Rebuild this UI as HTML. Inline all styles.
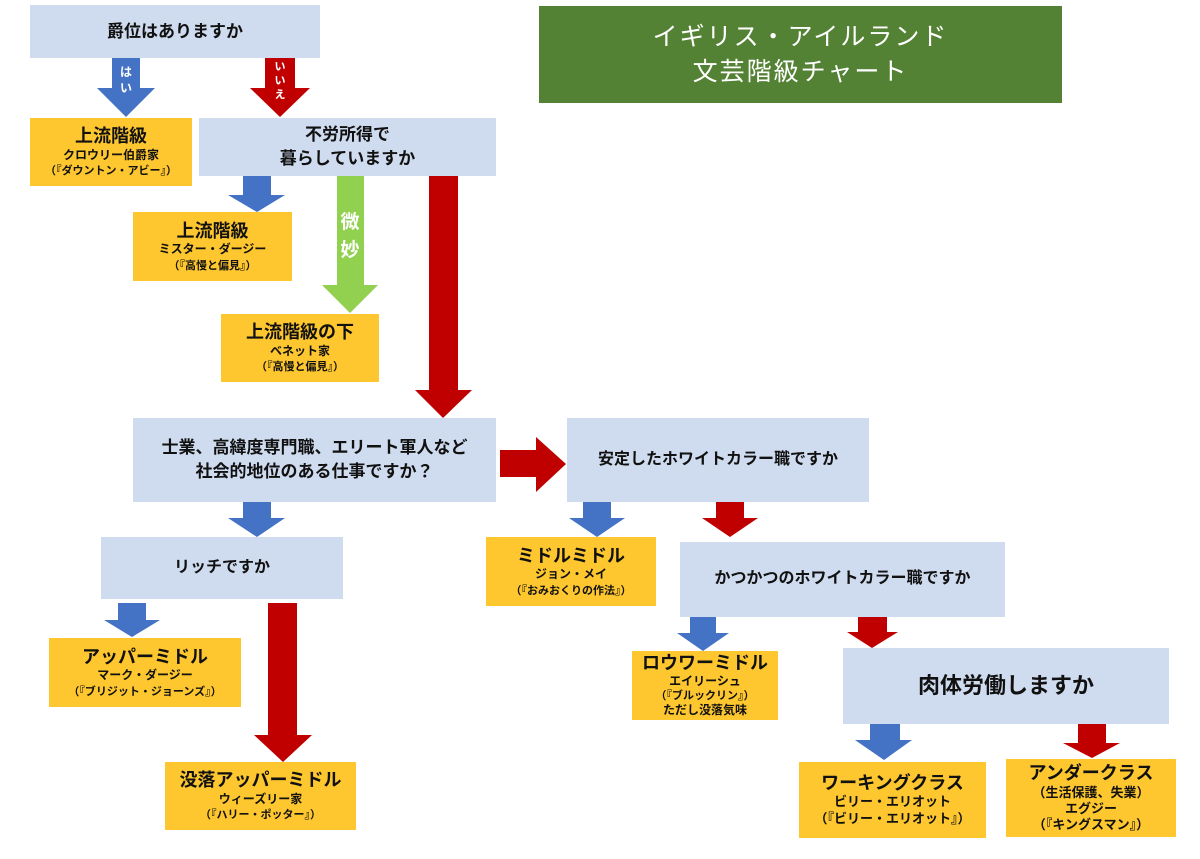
<!DOCTYPE html>
<html><head><meta charset="utf-8"><style>
body{margin:0;width:1200px;height:859px;background:#fff;position:relative;overflow:hidden;font-family:"Liberation Sans","Noto Sans CJK JP",sans-serif;font-weight:bold;color:#111}
.b{position:absolute;display:flex;align-items:center;justify-content:center;text-align:center;box-sizing:border-box}
.b>div{width:100%}
.q{background:#cfdbee;font-size:17px;line-height:1.4}
.y{background:#fec72f;font-size:12px;line-height:1.3}
.y .t{font-size:18px;line-height:1.25}
.s{font-size:11px}
svg{position:absolute;left:0;top:0}
</style></head><body>
<svg width="1200" height="859">
<g fill="#4472c4">
<polygon points="112,58 140,58 140,88 155,88 126,117 97,88 112,88"/>
<polygon points="243,176 271,176 271,195 285,195 257,212 228,195 243,195"/>
<polygon points="243,502 271,502 271,518 285,518 257,537 228,518 243,518"/>
<polygon points="118,603 146,603 146,620 160,620 132,637 104,620 118,620"/>
<polygon points="583,502 611,502 611,518 625,518 597,537 569,518 583,518"/>
<polygon points="690,616 716,616 716,633 729,633 703,651 677,633 690,633"/>
<polygon points="870,724 900,724 900,740 912,740 884,760 855,740 870,740"/>
</g>
<g fill="#c00000">
<polygon points="265,58 295,58 295,88 310,88 280,117 250,88 265,88"/>
<polygon points="429,176 458,176 458,390 472,390 443,418 415,390 429,390"/>
<polygon points="500,450 536,450 536,437 566,464 536,492 536,477 500,477"/>
<polygon points="268,603 297,603 297,735 312,735 283,762 254,735 268,735"/>
<polygon points="716,502 744,502 744,518 758,518 730,537 702,518 716,518"/>
<polygon points="858,616 887,616 887,632 898,632 872,648 847,632 858,632"/>
<polygon points="1078,724 1106,724 1106,743 1120,743 1092,758 1063,743 1078,743"/>
</g>
<polygon fill="#92d050" points="337,176 364,176 364,285 378,285 350,313 322,285 337,285"/>
<g fill="#fff" font-family="Liberation Sans,Noto Sans CJK JP,sans-serif" font-weight="bold" text-anchor="middle">
<text x="126" y="76" font-size="12">は</text><text x="126" y="92" font-size="12">い</text>
<text x="280" y="70" font-size="11">い</text><text x="280" y="84" font-size="11">い</text><text x="280" y="98" font-size="11">え</text>
<text x="350" y="228" font-size="19">微</text><text x="350" y="256" font-size="19">妙</text>
</g>
</svg>
<div class="b" style="left:539px;top:6px;width:523px;height:97px;background:#548235;color:#fff;font-weight:normal;font-size:25px;line-height:1.4;letter-spacing:2px"><div>イギリス・アイルランド<br>文芸階級チャート</div></div>
<div class="b q" style="left:30px;top:5px;width:290px;height:53px"><div>爵位はありますか</div></div>
<div class="b y" style="left:30px;top:118px;width:162px;height:68px"><div><div class="t">上流階級</div>クロウリー伯爵家<br><span class="s">（『ダウントン・アビー』）</span></div></div>
<div class="b q" style="left:199px;top:118px;width:297px;height:58px"><div>不労所得で<br>暮らしていますか</div></div>
<div class="b y" style="left:133px;top:212px;width:159px;height:69px"><div><div class="t">上流階級</div>ミスター・ダージー<br><span class="s">（『高慢と偏見』）</span></div></div>
<div class="b y" style="left:221px;top:314px;width:158px;height:68px"><div><div class="t">上流階級の下</div>ベネット家<br><span class="s">（『高慢と偏見』）</span></div></div>
<div class="b q" style="left:133px;top:418px;width:363px;height:84px"><div>士業、高緯度専門職、エリート軍人など<br>社会的地位のある仕事ですか？</div></div>
<div class="b q" style="left:567px;top:418px;width:302px;height:84px;font-size:16px"><div>安定したホワイトカラー職ですか</div></div>
<div class="b q" style="left:101px;top:537px;width:242px;height:62px;font-size:16px"><div>リッチですか</div></div>
<div class="b y" style="left:49px;top:638px;width:192px;height:69px"><div><div class="t">アッパーミドル</div>マーク・ダージー<br><span class="s">（『ブリジット・ジョーンズ』）</span></div></div>
<div class="b y" style="left:165px;top:762px;width:191px;height:68px"><div><div class="t">没落アッパーミドル</div>ウィーズリー家<br><span class="s">（『ハリー・ポッター』）</span></div></div>
<div class="b y" style="left:486px;top:537px;width:170px;height:69px"><div><div class="t">ミドルミドル</div>ジョン・メイ<br><span class="s">（『おみおくりの作法』）</span></div></div>
<div class="b q" style="left:680px;top:542px;width:325px;height:75px;font-size:16px"><div>かつかつのホワイトカラー職ですか</div></div>
<div class="b y" style="left:632px;top:651px;width:146px;height:69px;line-height:1.2"><div><div class="t" style="line-height:1.15">ロウワーミドル</div>エイリーシュ<br><span class="s">（『ブルックリン』）</span><br>ただし没落気味</div></div>
<div class="b q" style="left:843px;top:648px;width:326px;height:76px;font-size:22px"><div>肉体労働しますか</div></div>
<div class="b y" style="left:799px;top:762px;width:187px;height:76px;font-size:13px"><div><div class="t">ワーキングクラス</div>ビリー・エリオット<br>（『ビリー・エリオット』）</div></div>
<div class="b y" style="left:1006px;top:759px;width:170px;height:78px;font-size:13px;line-height:1.25"><div><div class="t">アンダークラス</div>（生活保護、失業）<br>エグジー<br>（『キングスマン』）</div></div>
</body></html>
